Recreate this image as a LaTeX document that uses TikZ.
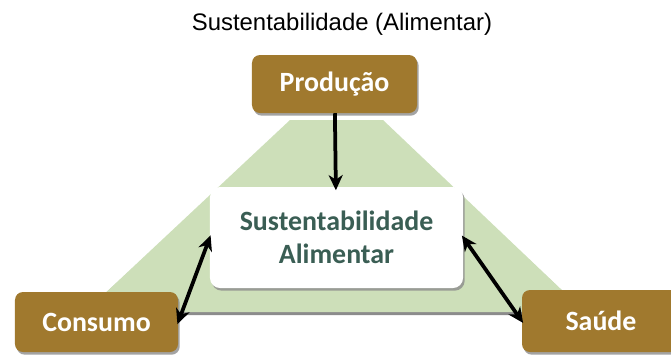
\documentclass[tikz,border=0pt]{standalone}
\usepackage{fontspec}
\setmainfont{Liberation Sans}
\newfontfamily\calibri{Carlito}
\usetikzlibrary{arrows.meta,shadows}

\definecolor{marrom}{RGB}{160,121,46}
\definecolor{verdeclaro}{RGB}{205,223,185}
\definecolor{verdeescuro}{RGB}{58,94,84}
\definecolor{sombra}{RGB}{140,140,140}

\tikzset{
  caixa/.style={rounded corners=0.24cm, fill=marrom, text=white,
    font=\calibri\bfseries\fontsize{23.8}{28}\selectfont,
    drop shadow={shadow xshift=0.05cm, shadow yshift=-0.08cm, fill=sombra, opacity=0.8}},
  caixacentro/.style={rounded corners=0.3cm, fill=white, text=verdeescuro, align=center,
    font=\calibri\bfseries\fontsize{23.8}{28}\selectfont,
    drop shadow={shadow xshift=0.05cm, shadow yshift=-0.08cm, fill=sombra, opacity=0.8}},
  ponta/.tip={Stealth[length=13pt,width=12pt,inset=4pt]},
  seta/.style={line width=3.2pt, -ponta, shorten >=-3pt},
  setadupla/.style={line width=3.2pt, ponta-ponta, shorten >=-2pt, shorten <=-2pt}
}

\begin{document}
\begin{tikzpicture}[x=0.03cm,y=-0.03cm]
\useasboundingbox (0,0) rectangle (671,356);

\fill[sombra] (290,123) -- (383,123) -- (588,315) -- (82,315) -- cycle;
\fill[verdeclaro] (290,120) -- (383,120) -- (585,312) -- (85,312) -- cycle;

\node[anchor=base, font=\fontsize{20.4}{24}\selectfont] (titulo) at (342,30) {Sustentabilidade (Alimentar)};

\node[caixa, minimum width=4.95cm, minimum height=1.74cm] (prod) at (334.5,84) {Produção};
\node[caixacentro, minimum width=7.59cm, minimum height=3.03cm] (centro) at (336.5,237.5) {Sustentabilidade\\Alimentar};
\node[caixa, minimum width=4.89cm, minimum height=1.8cm] (consumo) at (96.5,322) {Consumo};
\node[caixa, minimum width=4.74cm, minimum height=1.86cm] (saude) at (601,321) {Saúde};

\draw[seta] (prod) -- (centro);
\draw[setadupla] (consumo.east) -- (centro.west);
\draw[setadupla] (centro.east) -- (saude.west);
\end{tikzpicture}
\end{document}
